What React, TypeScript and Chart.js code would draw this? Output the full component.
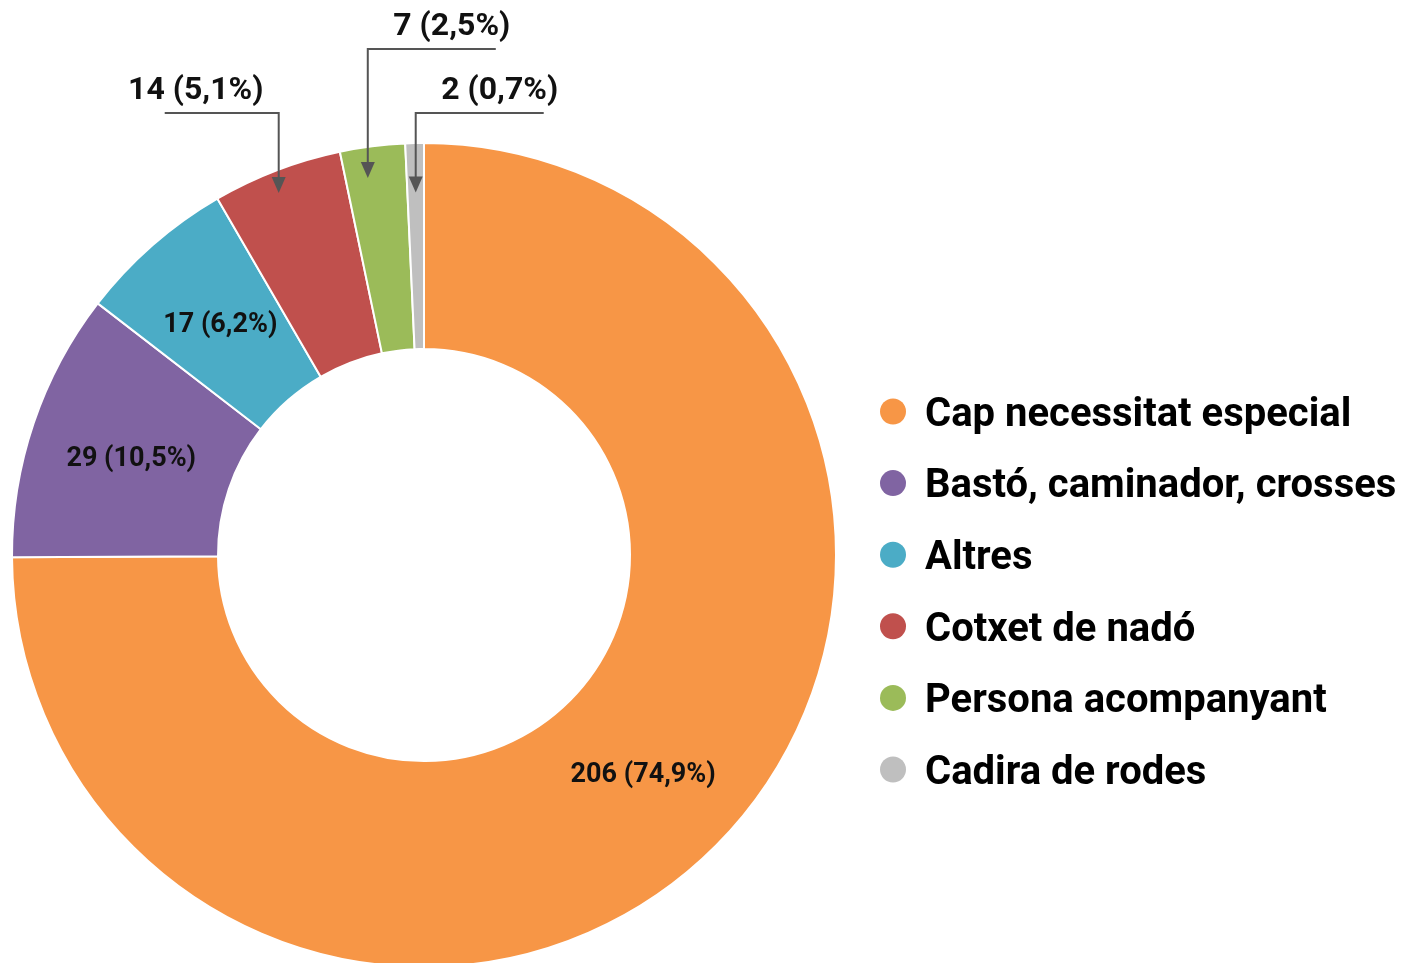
import React, { useEffect, useRef } from 'react';
import { Chart, registerables } from 'chart.js';

Chart.register(...registerables);

const categories = [
  'Cap necessitat especial',
  'Bastó, caminador, crosses',
  'Altres',
  'Cotxet de nadó',
  'Persona acompanyant',
  'Cadira de rodes',
];
const values = [206, 29, 17, 14, 7, 2];
const colors = ['#F79646', '#8064A2', '#4BACC6', '#C0504D', '#9BBB59', '#BFBFBF'];
const insideLabelIdx = [0, 1, 2];

// callout styling (geometry relative to slices)
const callouts = [
  { index: 3, frac: 0.45, rTip: 0.947, elbowY: 113, dir: -1, len: 114, textDx: -83, textDy: -14 },
  { index: 4, frac: 0.36, rTip: 0.925, elbowY: 49, dir: 1, len: 128, textDx: 84, textDy: -14 },
  { index: 5, frac: 0.5, rTip: 0.88, elbowY: 113, dir: 1, len: 128, textDx: 84, textDy: -14 },
];

const FONT = 'Roboto, "Noto Sans", sans-serif';
const CAP = 0.711;
const total = values.reduce((a, b) => a + b, 0);
const fmt = (v: number) => `${v} (${((v / total) * 100).toFixed(1).replace('.', ',')}%)`;

const labelPlugin = {
  id: 'customLabels',
  afterDraw(chart: any) {
    const ctx = chart.ctx;
    const meta = chart.getDatasetMeta(0);
    ctx.save();
    // inside labels
    ctx.fillStyle = '#111';
    ctx.textAlign = 'center';
    ctx.textBaseline = 'alphabetic';
    const inSize = 27;
    ctx.font = `bold ${inSize}px ${FONT}`;
    insideLabelIdx.forEach((i) => {
      const arc = meta.data[i];
      const p = arc.getProps(['x', 'y', 'startAngle', 'endAngle', 'innerRadius', 'outerRadius'], true);
      const mid = (p.startAngle + p.endAngle) / 2;
      const r = (p.innerRadius + p.outerRadius) / 2;
      ctx.fillText(fmt(values[i]), p.x + r * Math.cos(mid), p.y + r * Math.sin(mid) + (CAP * inSize) / 2);
    });
    // callouts
    callouts.forEach((c) => {
      const arc = meta.data[c.index];
      const p = arc.getProps(['x', 'y', 'startAngle', 'endAngle', 'outerRadius'], true);
      const a = p.startAngle + (p.endAngle - p.startAngle) * c.frac;
      const r = p.outerRadius * c.rTip;
      const tx = p.x + r * Math.cos(a);
      const ty = p.y + r * Math.sin(a);
      ctx.strokeStyle = '#555';
      ctx.fillStyle = '#555';
      ctx.lineWidth = 2;
      ctx.beginPath();
      ctx.moveTo(tx + c.dir * c.len, c.elbowY);
      ctx.lineTo(tx, c.elbowY);
      ctx.lineTo(tx, ty - 14);
      ctx.stroke();
      ctx.beginPath();
      ctx.moveTo(tx, ty);
      ctx.lineTo(tx - 7, ty - 16);
      ctx.lineTo(tx + 7, ty - 16);
      ctx.closePath();
      ctx.fill();
      ctx.fillStyle = '#111';
      ctx.font = `bold 32px ${FONT}`;
      ctx.fillText(fmt(values[c.index]), tx + c.textDx, c.elbowY + c.textDy);
    });
    // legend
    const lx = 893;
    const ly = 411.5;
    const step = 71.6;
    const lSize = 40;
    categories.forEach((name, i) => {
      const y = ly + i * step;
      ctx.fillStyle = colors[i];
      ctx.beginPath();
      ctx.arc(lx, y, 13, 0, Math.PI * 2);
      ctx.fill();
      ctx.fillStyle = '#000';
      ctx.textAlign = 'left';
      ctx.textBaseline = 'alphabetic';
      ctx.font = `bold ${lSize}px ${FONT}`;
      ctx.fillText(name, 925, y + (CAP * lSize) / 2);
    });
    ctx.restore();
  },
};

export default function App() {
  const ref = useRef<HTMLCanvasElement | null>(null);
  useEffect(() => {
    document.body.style.margin = '0';
    const chart = new Chart(ref.current as HTMLCanvasElement, {
      type: 'doughnut',
      data: {
        labels: categories,
        datasets: [
          {
            data: values,
            backgroundColor: colors,
            borderColor: '#ffffff',
            borderWidth: 2,
          },
        ],
      },
      options: {
        responsive: false,
        animation: false,
        cutout: '50%',
        layout: { padding: { left: 11, top: 142, right: 570, bottom: 32 } },
        plugins: { legend: { display: false }, tooltip: { enabled: false } },
      },
      plugins: [labelPlugin],
    });
    return () => chart.destroy();
  }, []);
  return (
    <div style={{ position: 'absolute', left: 0, top: 0, width: 1407, height: 963, overflow: 'hidden', background: '#fff' }}>
      <canvas ref={ref} width={1407} height={1000} />
    </div>
  );
}
